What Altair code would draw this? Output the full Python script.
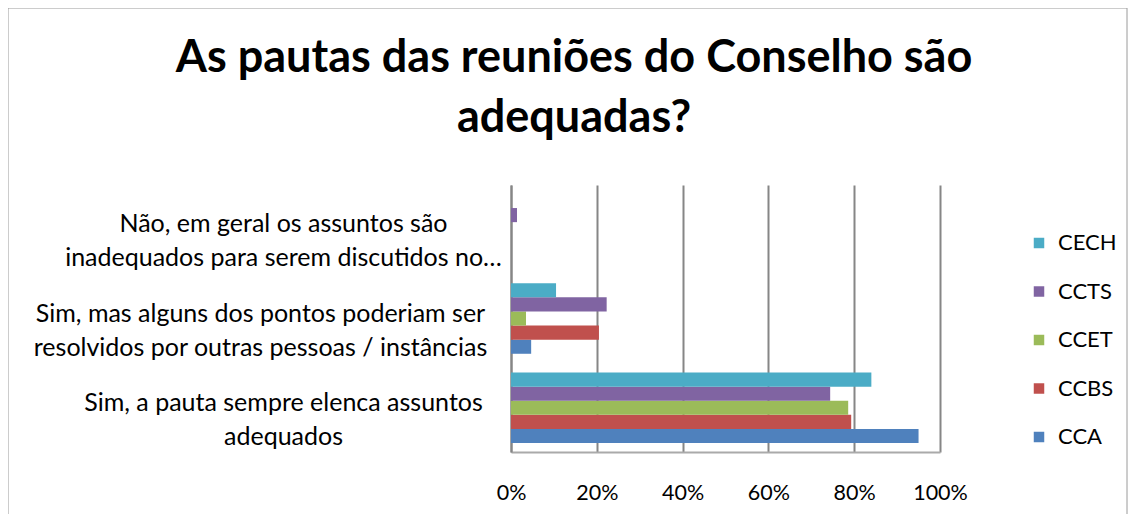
import altair as alt
import pandas as pd

title_lines = ["As pautas das reuniões do Conselho são", "adequadas?"]
categories = [
    "Sim, a pauta sempre elenca assuntos|adequados",
    "Sim, mas alguns dos pontos poderiam ser|resolvidos por outras pessoas / instâncias",
    "Não, em geral os assuntos são|inadequados para serem discutidos no…",
]
series = ["CCA", "CCBS", "CCET", "CCTS", "CECH"]
cca = [0.95, 0.047, 0.0]
ccbs = [0.793, 0.205, 0.0]
ccet = [0.786, 0.035, 0.0]
ccts = [0.744, 0.223, 0.014]
cech = [0.84, 0.105, 0.0]
colors = ["#4F81BD", "#C0504D", "#9BBB59", "#8064A2", "#4BACC6"]
x_ticks = [0, 0.2, 0.4, 0.6, 0.8, 1.0]

rows = []
for s, vals in zip(series, [cca, ccbs, ccet, ccts, cech]):
    for c, v in zip(categories, vals):
        rows.append({"categoria": c, "serie": s, "valor": v})
df = pd.DataFrame(rows)

cat_order = categories[::-1]
series_order = series[::-1]
FONT = "Lato"

bars = alt.Chart(df).mark_bar().encode(
    y=alt.Y(
        "categoria:N",
        sort=cat_order,
        scale=alt.Scale(paddingInner=0.21, paddingOuter=0.1),
        axis=alt.Axis(
            title=None,
            labelExpr="split(datum.label, '|')",
            labelAlign="center",
            labelBaseline="middle",
            labelPadding=alt.ExprRef("indexof(datum.value, 'resolvidos') >= 0 ? 251 : 228"),
            labelLimit=600,
            labelFontSize=25,
            labelFont=FONT,
            labelColor="#000000",
            labelLineHeight=34,
            labelOffset=-5,
            ticks=False,
            domain=True,
            domainColor="#868686",
            domainWidth=2,
            grid=False,
        ),
    ),
    yOffset=alt.YOffset("serie:N", sort=series_order,
                        scale=alt.Scale(paddingInner=0, paddingOuter=0)),
    x=alt.X(
        "valor:Q",
        scale=alt.Scale(domain=[0, 1], nice=False),
        axis=alt.Axis(
            title=None,
            format="%",
            values=x_ticks,
            grid=True,
            gridColor="#868686",
            gridWidth=2,
            domain=True,
            domainColor="#aaaaaa",
            domainWidth=2,
            ticks=False,
            labelFlush=False,
            labelPadding=30,
            labelFontSize=21.5,
            labelFont=FONT,
            labelColor="#000000",
        ),
    ),
    color=alt.Color(
        "serie:N",
        scale=alt.Scale(domain=series_order, range=colors[::-1]),
        legend=alt.Legend(
            title=None,
            orient="none",
            legendX=517,
            legendY=47,
            symbolType="square",
            symbolSize=110,
            symbolStrokeWidth=0,
            labelFontSize=22,
            labelFont=FONT,
            labelColor="#000000",
            rowPadding=26.5,
            labelOffset=8,
        ),
    ),
)

border = alt.Chart(pd.DataFrame({"a": [0]})).mark_rect(
    fill=None, stroke="#9a9a9a", strokeWidth=1
).encode(
    x=alt.value(-503), x2=alt.value(616), y=alt.value(-177), y2=alt.value(340)
)

title = alt.Chart(pd.DataFrame({"a": [0]})).mark_text(
    text=title_lines,
    font=FONT,
    fontSize=45,
    fontWeight="bold",
    lineHeight=60,
    align="center",
    baseline="alphabetic",
    color="#000000",
).encode(x=alt.value(63), y=alt.value(-113))

chart = alt.layer(border, title, bars).properties(
    width=429,
    height=267,
    autosize=alt.AutoSizeParams(type="none"),
    padding={"left": 503, "top": 177, "right": 188, "bottom": 62},
).configure_view(stroke=None)

chart.save("out.html", embed_options={"renderer": "svg", "actions": False})
